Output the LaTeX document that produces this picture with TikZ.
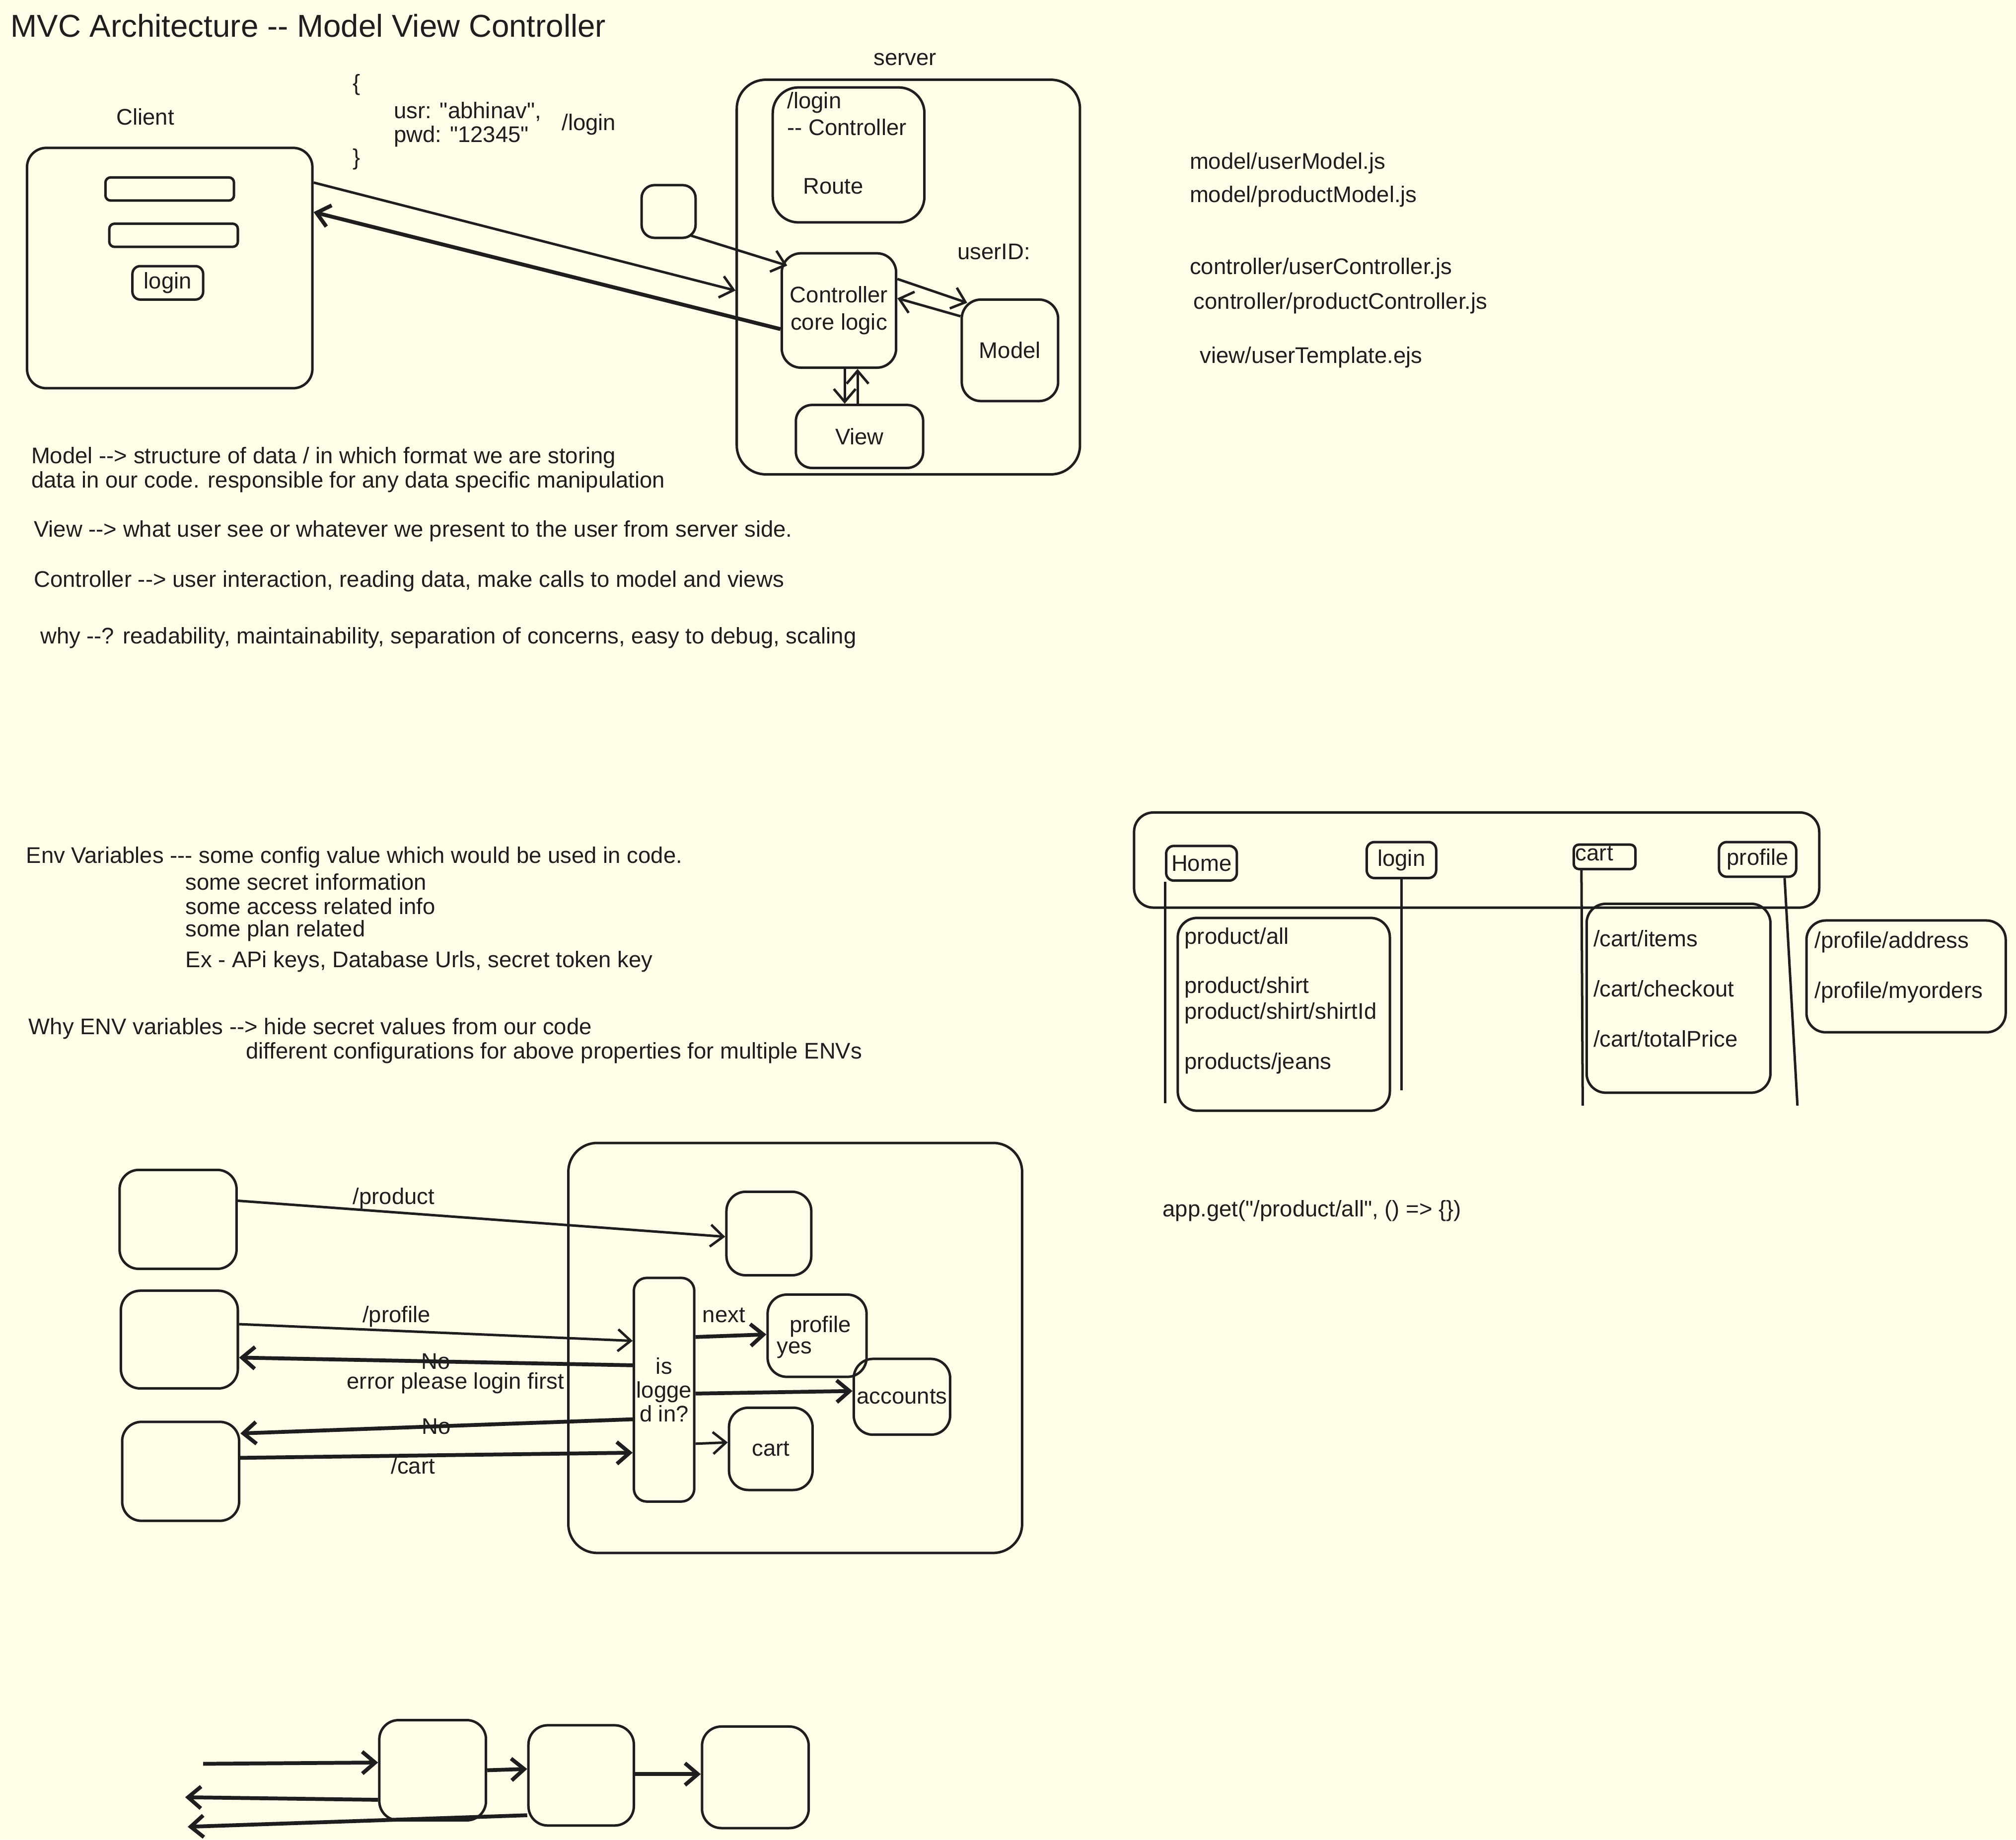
\documentclass[tikz,border=0pt]{standalone}
\usepackage{fontspec}
\setmainfont{Liberation Sans}[Ligatures=TeXOff]
\usetikzlibrary{arrows.meta}
\definecolor{paper}{HTML}{FFFCE8}
\definecolor{ink}{HTML}{1E1E1E}

\begin{document}
\begin{tikzpicture}[x=0.02cm, y=-0.02cm,
    every node/.style={font=\fontsize{10}{12}\selectfont, text=ink},
    box/.style={draw=ink, line width=1.1pt, rounded corners=0.3cm, inner sep=0pt},
    btn/.style={box, rounded corners=0.12cm},
    txt/.style={anchor=west, inner sep=0pt},
    arr/.style={draw=ink, line width=1.1pt, -{Straight Barb[length=2mm,width=3.4mm]}},
    heavy/.style={arr, line width=1.7pt},
    wire/.style={draw=ink, line width=1.1pt}]
    \useasboundingbox (0,0) rectangle (1568,1431);
    \fill[paper] (0,0) rectangle (1568,1431);

    % Title
    \node[txt, font=\fontsize{14}{16}\selectfont] (title) at (8,20) {MVC Architecture -- Model View Controller};

    % Client
    \node (clientlbl) at (113,91) {Client};
    \node[box, minimum width=4.44cm, minimum height=3.74cm] (client) at (132,208.5) {};
    \node[btn, rounded corners=0.08cm, minimum width=2cm, minimum height=0.36cm] (field1) at (132,147) {};
    \node[btn, rounded corners=0.08cm, minimum width=2cm, minimum height=0.36cm] (field2) at (135,183) {};
    \node[btn, minimum width=1.1cm, minimum height=0.52cm] (loginbtn) at (130.5,220) {login};

    % request body
    \node[txt] (lbrace) at (274,66) {\{};
    \node[txt] (usr) at (306,87) {usr: "abhinav",};
    \node[txt] (pwd) at (306,106) {pwd: "12345"};
    \node[txt] (rbrace) at (274,124) {\}};
    \node (loginpath) at (458,97) {/login};

    % Server
    \node (serverlbl) at (704,46) {server};
    \node[box, rounded corners=0.45cm, minimum width=5.34cm, minimum height=6.14cm] (server) at (706.5,215.5) {};
    \node[box, rounded corners=0.4cm, minimum width=2.36cm, minimum height=2.1cm] (route) at (660,120.5) {};
    \node[txt] (routepath) at (612,80) {/login};
    \node[txt] (routectl) at (612,99) {-- Controller};
    \node (routelbl) at (648,145) {Route};
    \node[box, rounded corners=0.2cm, minimum width=0.84cm, minimum height=0.82cm] (stub) at (520,164.5) {};
    \node[box, align=center, minimum width=1.78cm, minimum height=1.78cm] (ctl) at (652.5,241.5) {Controller\\core logic};
    \node[box, minimum width=1.5cm, minimum height=1.58cm] (model) at (785.5,272.5) {Model};
    \node (userid) at (773,196) {userID:};
    \node[box, rounded corners=0.25cm, minimum width=1.98cm, minimum height=0.98cm] (view) at (668.5,339.5) {View};

    \draw[arr] (client.east |- 0,142) -- (server.west |- 0,226);
    \draw[heavy] (ctl.west |- 0,256) -- (client.east |- 0,165);
    \draw[arr] ([xshift=-2.5pt,yshift=1.5pt]stub.south east) -- ([xshift=3pt,yshift=-6pt]ctl.north west);
    \draw[arr] (ctl.east |- 0,217) -- ([xshift=3pt,yshift=-2pt]model.north west);
    \draw[arr] (model.west |- 0,246) -- (ctl.east |- 0,232);
    \draw[arr] (ctl.south -| 657,0) -- (view.north -| 657,0);
    \draw[arr] (view.north -| 667,0) -- (ctl.south -| 667,0);

    % folders
    \node[txt] (file1) at (925,127) {model/userModel.js};
    \node[txt] (file2) at (925,153) {model/productModel.js};
    \node[txt] (file3) at (925,209) {controller/userController.js};
    \node[txt] (file4) at (928,236) {controller/productController.js};
    \node[txt] (file5) at (933,278) {view/userTemplate.ejs};

    % notes
    \node[txt] (note1) at (24,356) {Model --> structure of data / in which format we are storing};
    \node[txt] (note2) at (24,375) {data in our code. responsible for any data specific manipulation};
    \node[txt] (note3) at (26,413) {View --> what user see or whatever we present to the user from server side.};
    \node[txt] (note4) at (26,452) {Controller --> user interaction, reading data, make calls to model and views};
    \node[txt] (note5) at (31,496) {why --? readability, maintainability, separation of concerns, easy to debug, scaling};

    % env variables
    \node[txt] (env1) at (20,667) {Env Variables --- some config value which would be used in code.};
    \node[txt] (env2) at (144,686) {some secret information};
    \node[txt] (env3) at (144,705) {some access related info};
    \node[txt] (env4) at (144,724) {some plan related};
    \node[txt] (env5) at (144,748) {Ex - APi keys, Database Urls, secret token key};
    \node[txt] (env6) at (22,800) {Why ENV variables --> hide secret values from our code};
    \node[txt] (env7) at (191,819) {different configurations for above properties for multiple ENVs};

    % Nav bar
    \node[box, minimum width=10.66cm, minimum height=1.48cm] (nav) at (1148.5,669) {};
    \node[btn, minimum width=1.1cm, minimum height=0.54cm] (home) at (934.5,671.5) {Home};
    \node[btn, minimum width=1.08cm, minimum height=0.56cm] (navlogin) at (1090,669) {login};
    \node[btn, rounded corners=0.08cm, minimum width=0.96cm, minimum height=0.38cm] (navcart) at (1248,666.5) {};
    \node (navcarttxt) at (1240,664) {cart};
    \node[btn, minimum width=1.2cm, minimum height=0.54cm] (navprof) at (1367,668.5) {profile};
    \coordinate (profend) at (1398,860);
    \draw[wire] (home.south west) -- (home.south west |- 0,858);
    \draw[wire] (navlogin.south) -- (navlogin.south |- 0,848);
    \draw[wire] (navcart.south -| 1230,0) -- (1231,860);
    \draw[wire] (navprof.south -| 1388,0) -- (profend);

    \node[box, minimum width=3.3cm, minimum height=3cm] (prodlist) at (998.5,789) {};
    \node[txt] (prod1) at (921,730) {product/all};
    \node[txt] (prod2) at (921,768) {product/shirt};
    \node[txt] (prod3) at (921,788) {product/shirt/shirtId};
    \node[txt] (prod4) at (921,827) {products/jeans};
    \node[box, minimum width=2.86cm, minimum height=2.94cm] (cartlist) at (1305.5,776.5) {};
    \node[txt] (cart1) at (1239,730) {/cart/items};
    \node[txt] (cart2) at (1239,769) {/cart/checkout};
    \node[txt] (cart3) at (1239,808) {/cart/totalPrice};
    \node[box, minimum width=3.1cm, minimum height=1.74cm] (proflist) at (1482.5,759.5) {};
    \node[txt] (prof1) at (1411,733) {/profile/address};
    \node[txt] (prof2) at (1411,772) {/profile/myorders};

    \node[txt] (appget) at (904,942) {app.get("/product/all", () => \{\})};

    % Requests and middleware
    \node[box, minimum width=1.82cm, minimum height=1.54cm] (req1) at (138.5,948.5) {};
    \node[box, minimum width=1.82cm, minimum height=1.52cm] (req2) at (139.5,1042) {};
    \node[box, minimum width=1.82cm, minimum height=1.54cm] (req3) at (140.5,1144.5) {};
    \node[box, rounded corners=0.45cm, minimum width=7.06cm, minimum height=6.38cm] (app) at (618.5,1048.5) {};
    \node[box, minimum width=1.32cm, minimum height=1.3cm] (prodh) at (598,959.5) {};
    \node[box, rounded corners=0.2cm, align=center, font=\fontsize{10}{10.5}\selectfont, minimum width=0.94cm, minimum height=3.48cm] (auth) at (516.5,1081) {is\\logge\\d in?};
    \node[box, minimum width=1.54cm, minimum height=1.28cm] (profh) at (635.5,1039) {};
    \node (profhtxt) at (638,1032) {profile};
    \node (yestxt) at (618,1050) {yes};
    \node[box, minimum width=1.5cm, minimum height=1.18cm] (acc) at (701.5,1086.5) {accounts};
    \node[box, minimum width=1.3cm, minimum height=1.28cm] (carth) at (599.5,1127) {cart};

    \draw[arr] (req1.east |- 0,934) -- (prodh.west |- 0,962) node[pos=0.32, above, inner sep=1pt] {/product};
    \draw[arr] (req2.east |- 0,1030) -- (auth.west |- 0,1043) node[pos=0.4, above, inner sep=1pt] {/profile};
    \draw[heavy] (auth.west |- 0,1062) -- (req2.east |- 0,1056)
        node[pos=0.5, inner sep=0pt] {No}
        node[pos=0.45, below, inner sep=4pt] {error please login first};
    \draw[heavy] (auth.west |- 0,1104) -- (req3.east |- 0,1115) node[pos=0.5, inner sep=0pt] {No};
    \draw[heavy] (req3.east |- 0,1134) -- (auth.west |- 0,1130) node[pos=0.44, below, inner sep=0pt] {/cart};
    \draw[heavy] (auth.east |- 0,1040) -- (profh.west |- 0,1038) node[pos=0.4, above, inner sep=5pt] {next};
    \draw[heavy] (auth.east |- 0,1084) -- (acc.west |- 0,1082);
    \draw[arr] (auth.east |- 0,1123) -- (carth.west |- 0,1122);

    % chain
    \node[box, minimum width=1.66cm, minimum height=1.56cm] (mw1) at (336.5,1377) {};
    \node[box, minimum width=1.64cm, minimum height=1.56cm] (mw2) at (452,1381) {};
    \node[box, minimum width=1.66cm, minimum height=1.58cm] (mw3) at (587.5,1382.5) {};
    \coordinate (incoming) at (158,1372);
    \coordinate (back1) at (144,1398);
    \coordinate (back2) at (146,1421);
    \draw[heavy] (incoming) -- (mw1.west |- 0,1371);
    \draw[heavy] (mw1.west |- 0,1400) -- (back1);
    \draw[heavy] (mw2.west |- 0,1412) -- (back2);
    \draw[heavy] (mw1.east |- 0,1377) -- (mw2.west |- 0,1376);
    \draw[heavy] (mw2.east |- 0,1380) -- (mw3.west |- 0,1380);
\end{tikzpicture}
\end{document}
